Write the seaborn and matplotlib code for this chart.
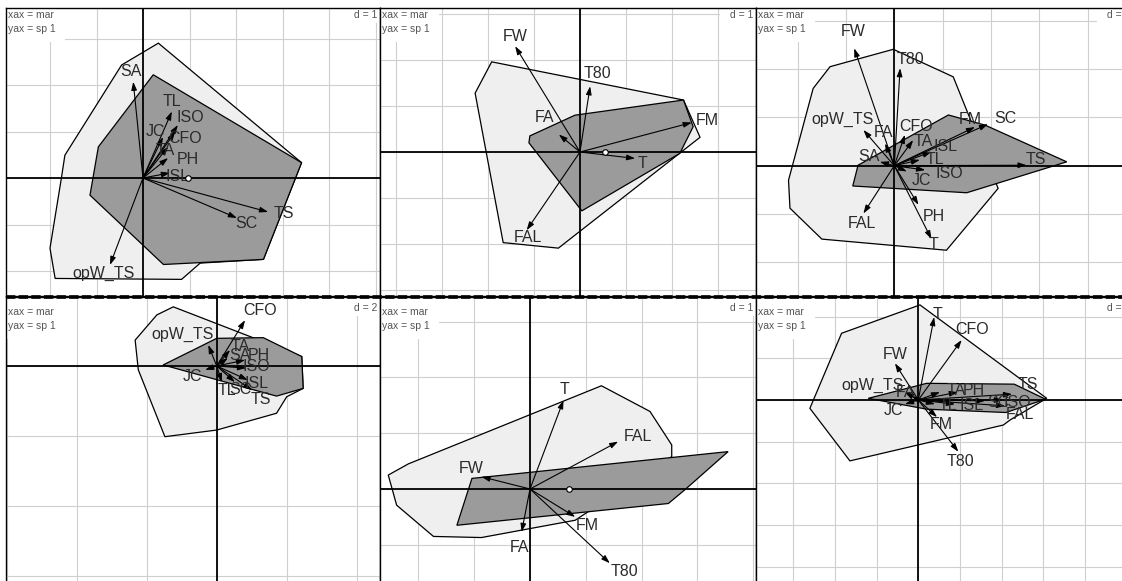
import numpy as np
import matplotlib
matplotlib.use("Agg")
import matplotlib.pyplot as plt
import seaborn as sns
import pandas as pd
from matplotlib.patches import Rectangle
from matplotlib.lines import Line2D

# ---------------------------------------------------------------
# Panel 1 (d = 1)
p1_hull_x = [0.33, 3.41, 2.59, 1.23, 0.83, -1.89, -2.00, -1.75, -1.68, -0.46]
p1_hull_y = [2.90, 0.33, -1.75, -1.83, -2.18, -2.16, -1.51, 0.03, 0.49, 2.43]
p1_core_x = [0.22, 3.41, 2.59, 0.44, -1.14, -0.96]
p1_core_y = [2.22, 0.33, -1.75, -1.86, -0.37, 0.67]
p1_vars = ["SA", "TL", "ISO", "JC", "CFO", "TA", "PH", "ISL", "TS", "SC", "opW_TS"]
p1_tip_x = [-0.21, 0.62, 0.75, 0.43, 0.69, 0.54, 0.54, 0.58, 2.69, 2.02, -0.71]
p1_tip_y = [2.07, 1.43, 1.14, 0.88, 0.99, 0.67, 0.43, 0.11, -0.73, -0.86, -1.87]
p1_lab_x = [-0.26, 0.62, 1.01, 0.26, 0.90, 0.47, 0.97, 0.74, 3.02, 2.23, -0.85]
p1_lab_y = [2.29, 1.64, 1.30, 1.00, 0.84, 0.60, 0.40, 0.04, -0.76, -0.97, -2.06]
p1_center = [0.97]

# Panel 2 (d = 1)
p2_hull_x = [-1.92, -2.28, -1.67, -0.47, 2.61, 2.25]
p2_hull_y = [1.96, 1.28, -1.97, -2.09, 0.32, 1.13]
p2_core_x = [-0.11, 2.25, 2.46, 2.17, 0.04, -1.11, -1.09]
p2_core_y = [0.80, 1.13, 0.55, -0.03, -1.28, 0.20, 0.35]
p2_vars = ["FW", "T80", "FA", "FM", "T", "FAL"]
p2_tip_x = [-1.41, 0.22, -0.46, 2.43, 1.20, -1.16]
p2_tip_y = [2.30, 1.43, 0.38, 0.64, -0.14, -1.70]
p2_lab_x = [-1.41, 0.38, -0.78, 2.77, 1.35, -1.14]
p2_lab_y = [2.51, 1.70, 0.74, 0.68, -0.25, -1.85]
p2_center = [0.54]

# Panel 3 (d = 1)
p3_hull_x = [-0.02, 1.22, 2.15, 1.08, -1.50, -2.16, -2.19, -1.68, -1.33]
p3_hull_y = [2.41, 1.84, -0.47, -1.75, -1.52, -0.88, -0.30, 1.60, 2.05]
p3_core_x = [1.12, 1.88, 3.57, 1.50, -0.86, -0.75]
p3_core_y = [1.05, 0.84, 0.08, -0.56, -0.42, 0.01]
p3_vars = ["FW", "T80", "opW_TS", "FA", "CFO", "TA", "FM", "SC", "ISL",
           "TL", "TS", "ISO", "JC", "SA", "PH", "T", "FAL"]
p3_tip_x = [-0.83, 0.12, -0.64, -0.19, 0.22, 0.39, 1.67, 1.94, 0.77,
            0.53, 2.74, 0.64, 0.26, -0.30, 0.50, 0.77, -0.64]
p3_tip_y = [2.43, 2.02, 0.74, 0.46, 0.64, 0.53, 0.80, 0.86, 0.29,
            0.12, 0.01, -0.09, -0.12, 0.08, -0.81, -1.52, -0.99]
p3_lab_x = [-0.85, 0.33, -1.07, -0.23, 0.46, 0.59, 1.57, 2.29, 1.07,
            0.85, 2.93, 1.13, 0.57, -0.52, 0.82, 0.81, -0.67]
p3_lab_y = [2.77, 2.19, 0.95, 0.68, 0.82, 0.50, 0.95, 0.98, 0.39,
            0.12, 0.12, -0.16, -0.30, 0.19, -1.06, -1.64, -1.19]

# Panel 4 (d = 2)
p4_hull_x = [-1.24, 2.43, 2.47, 2.00, 1.71, 0.00, -1.48, -2.24, -2.33, -1.71]
p4_hull_y = [1.69, 0.27, -0.64, -0.88, -1.35, -1.83, -2.02, -0.11, 0.74, 1.46]
p4_core_x = [-1.53, 0.00, 1.33, 2.43, 2.47, 1.71]
p4_core_y = [0.03, 0.79, 0.81, 0.27, -0.64, -0.86]
p4_vars = ["CFO", "opW_TS", "TA", "SA", "PH", "ISO", "JC", "ISL", "TL", "SC", "TS"]
p4_tip_x = [0.81, -0.24, 0.38, 0.32, 0.81, 0.84, -0.33, 0.89, 0.15, 0.52, 1.01]
p4_tip_y = [1.31, 0.60, 0.46, 0.23, 0.17, -0.06, -0.11, -0.40, -0.46, -0.46, -0.69]
p4_lab_x = [1.24, -0.98, 0.67, 0.67, 1.21, 1.12, -0.68, 1.15, 0.29, 0.67, 1.27]
p4_lab_y = [1.58, 0.89, 0.57, 0.29, 0.29, 0.00, -0.31, -0.49, -0.69, -0.66, -0.97]

# Panel 5 (d = 1)
p5_hull_x = [-2.54, -2.39, -1.73, -0.87, 0.81, 2.54, 2.54, 2.15, 1.28, -2.18]
p5_hull_y = [0.25, -0.29, -0.85, -0.87, -0.56, 0.58, 0.79, 1.39, 1.85, 0.45]
p5_core_x = [-1.04, 3.55, 2.78, 2.48, -1.31]
p5_core_y = [0.19, 0.67, -0.01, -0.26, -0.65]
p5_vars = ["T", "FAL", "FW", "FM", "FA", "T80"]
p5_tip_x = [0.60, 1.58, -0.87, 0.81, -0.15, 1.43]
p5_tip_y = [1.59, 0.85, 0.22, -0.50, -0.77, -1.33]
p5_lab_x = [0.61, 1.93, -1.06, 1.03, -0.18, 1.70]
p5_lab_y = [1.79, 0.94, 0.36, -0.65, -1.05, -1.48]
p5_center = [0.70]

# Panel 6 (d = 1)
p6_hull_x = [0.04, 3.08, 2.20, 2.04, -1.64, -2.60, -1.84]
p6_hull_y = [2.28, 0.04, -0.48, -0.60, -1.46, -0.20, 1.60]
p6_core_x = [-1.20, 0.20, 2.30, 3.05, 2.10, 0.20]
p6_core_y = [0.04, 0.40, 0.38, 0.02, -0.30, -0.22]
p6_vars = ["T", "CFO", "FW", "opW_TS", "FA", "TA", "PH", "TS", "ISO", "SC",
           "TL", "ISL", "FAL", "JC", "FM", "T80"]
p6_tip_x = [0.38, 1.04, -0.56, -0.32, -0.15, 0.52, 0.95, 2.25, 2.03, 1.60,
            0.40, 0.88, 2.08, -0.32, 0.45, 0.96]
p6_tip_y = [1.99, 1.44, 0.88, 0.19, 0.10, 0.19, 0.19, 0.14, 0.00, -0.02,
            -0.10, -0.10, -0.14, -0.10, -0.41, -1.24]
p6_lab_x = [0.46, 1.30, -0.56, -1.10, -0.30, 0.90, 1.34, 2.63, 2.38, 1.91,
            0.70, 1.28, 2.44, -0.59, 0.56, 1.02]
p6_lab_y = [2.06, 1.68, 1.10, 0.34, 0.17, 0.22, 0.22, 0.36, -0.05, -0.05,
            -0.14, -0.14, -0.34, -0.24, -0.58, -1.48]

x_axis_label = "xax = mar"
y_axis_label = "yax = sp 1"

# ---------------------------------------------------------------
W, H = 1122, 581
sns.set_theme(style="white")
plt.rcParams["font.family"] = ["Liberation Sans", "DejaVu Sans"]

fig = plt.figure(figsize=(W / 100, H / 100), dpi=100)
fig.patch.set_facecolor("white")

GRID_C = "#cfcfcf"
HULL_C = "#efefef"
CORE_C = "#9b9b9b"
TEXT_C = "#2a2a2a"

panels = [
    dict(box=(6, 8, 380, 296), origin=(143, 178), grid=46.5, d=1, row=0,
         hull=(p1_hull_x, p1_hull_y), core=(p1_core_x, p1_core_y),
         vars=(p1_vars, p1_tip_x, p1_tip_y, p1_lab_x, p1_lab_y), center=p1_center),
    dict(box=(380, 8, 756, 296), origin=(580, 152), grid=46, d=1, row=0,
         hull=(p2_hull_x, p2_hull_y), core=(p2_core_x, p2_core_y),
         vars=(p2_vars, p2_tip_x, p2_tip_y, p2_lab_x, p2_lab_y), center=p2_center),
    dict(box=(756, 8, 1133, 296), origin=(894.3, 165.7), grid=48.3, d=1, row=0,
         hull=(p3_hull_x, p3_hull_y), core=(p3_core_x, p3_core_y),
         vars=(p3_vars, p3_tip_x, p3_tip_y, p3_lab_x, p3_lab_y), center=None),
    dict(box=(6, 297, 380, 590), origin=(216.7, 366), grid=70, d=2, row=1,
         hull=(p4_hull_x, p4_hull_y), core=(p4_core_x, p4_core_y),
         vars=(p4_vars, p4_tip_x, p4_tip_y, p4_lab_x, p4_lab_y), center=None),
    dict(box=(380, 297, 756, 590), origin=(530, 489), grid=55.8, d=1, row=1,
         hull=(p5_hull_x, p5_hull_y), core=(p5_core_x, p5_core_y),
         vars=(p5_vars, p5_tip_x, p5_tip_y, p5_lab_x, p5_lab_y), center=p5_center),
    dict(box=(756, 297, 1133, 590), origin=(918.3, 400), grid=41.7, d=1, row=1,
         hull=(p6_hull_x, p6_hull_y), core=(p6_core_x, p6_core_y),
         vars=(p6_vars, p6_tip_x, p6_tip_y, p6_lab_x, p6_lab_y), center=None),
]


def draw_panel(p):
    left, top, right, bottom = p["box"]
    ox, oy = p["origin"]
    d = p["d"]
    unit = p["grid"] / d  # pixels per data unit
    ax = fig.add_axes([left / W, 1 - bottom / H, (right - left) / W, (bottom - top) / H])
    x0, x1 = (left - ox) / unit, (right - ox) / unit
    y0, y1 = (oy - bottom) / unit, (oy - top) / unit
    ax.set_xlim(x0, x1)
    ax.set_ylim(y0, y1)
    ax.set_facecolor("white")

    # background grid every d units
    for v in np.arange(np.ceil(x0 / d), np.floor(x1 / d) + 1) * d:
        ax.axvline(v, color=GRID_C, lw=0.8, zorder=0)
    for v in np.arange(np.ceil(y0 / d), np.floor(y1 / d) + 1) * d:
        ax.axhline(v, color=GRID_C, lw=0.8, zorder=0)

    # convex hull and inner polygon
    hx, hy = p["hull"]
    ax.fill(hx, hy, facecolor=HULL_C, edgecolor="black", lw=0.9, zorder=1)
    cx, cy = p["core"]
    ax.fill(cx, cy, facecolor=CORE_C, edgecolor="black", lw=0.9, zorder=2)

    # axes through the origin
    ax.axhline(0, color="black", lw=1.3, zorder=3)
    ax.axvline(0, color="black", lw=1.3, zorder=3)

    # variable arrows and their labels
    names, tx, ty, lx, ly = p["vars"]
    for name, a, b in zip(names, tx, ty):
        ax.annotate("", xy=(a, b), xytext=(0, 0),
                    arrowprops=dict(arrowstyle="-|>,head_length=0.45,head_width=0.15",
                                    color="black", lw=0.8, shrinkA=0, shrinkB=0,
                                    mutation_scale=11),
                    zorder=4)
    for name, c, e in zip(names, lx, ly):
        ax.text(c, e, name, ha="center", va="center", fontsize=11.5,
                color=TEXT_C, zorder=5)

    if p["center"] is not None:
        df = pd.DataFrame({"x": p["center"], "y": [0.0] * len(p["center"])})
        sns.scatterplot(data=df, x="x", y="y", ax=ax, marker="o", s=16,
                        facecolor="white", edgecolor="black", linewidth=0.8,
                        zorder=6, legend=False)

    ax.set_xlabel("")
    ax.set_ylabel("")
    ax.set_xticks([])
    ax.set_yticks([])

    pw, ph = right - left, bottom - top

    def fx(px):
        return (px - left) / pw

    def fy(py):
        return (bottom - py) / ph

    shift = 0 if p["row"] == 0 else 8
    # legend box top-left
    ax.add_patch(Rectangle((0, fy(top + 34 + shift)), fx(left + 59), 1 - fy(top + 34 + shift),
                           transform=ax.transAxes, facecolor="white",
                           edgecolor="none", zorder=7))
    ax.text(fx(left + 2), fy(top + 7 + shift), x_axis_label, transform=ax.transAxes,
            ha="left", va="center", fontsize=7.5, color="#555555", zorder=8)
    ax.text(fx(left + 2), fy(top + 20.5 + shift), y_axis_label, transform=ax.transAxes,
            ha="left", va="center", fontsize=7.5, color="#555555", zorder=8)
    # scale box top-right
    ax.add_patch(Rectangle((fx(right - 36), fy(top + 15 + shift / 2)), 1 - fx(right - 36),
                           1 - fy(top + 15 + shift / 2),
                           transform=ax.transAxes, facecolor="white",
                           edgecolor="none", zorder=7))
    ax.text(fx(right - 3), fy(top + 7 + shift / 2), f"d = {d}", transform=ax.transAxes,
            ha="right", va="center", fontsize=7.5, color="#555555", zorder=8)

    for s in ax.spines.values():
        s.set_visible(True)
        s.set_color("black")
        s.set_linewidth(1.0)
        s.set_zorder(9)
    return ax


for p in panels:
    draw_panel(p)

# dashed separator between the two rows
fig.add_artist(Line2D([6 / W, 1.0], [1 - 296.5 / H, 1 - 296.5 / H],
                      color="black", lw=2.6, linestyle=(0, (2.6, 0.9)),
                      transform=fig.transFigure, zorder=20))

fig.savefig("out.png", dpi=100, facecolor="white")
